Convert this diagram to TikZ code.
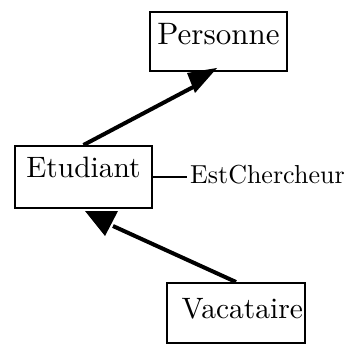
\documentclass[tikz,border=0pt]{standalone}
\usepackage{fontspec}
\setmainfont{lmroman10-regular.otf}
\usetikzlibrary{calc}
\begin{document}
\begin{tikzpicture}[x=1pt,y=-1pt]
\tikzset{
  cls/.style={draw, line width=2pt, inner sep=0pt, anchor=base},
  gen/.style={line width=4pt},
  tri/.style={fill=black},
  attr/.style={inner xsep=3pt, inner ysep=0pt, anchor=base west, font=\fontsize{26}{31}\selectfont},
}
\useasboundingbox (0,0) rectangle (354,345);
\node[cls, font=\fontsize{31}{37}\selectfont, minimum width=137pt, text height=33pt, text depth=26pt] (per) at (218.5,45) {Personne};
\node[cls, font=\fontsize{29.5}{35}\selectfont, minimum width=137pt, text height=32pt, text depth=30pt] (etu) at (83.5,178) {Etudiant};
\node[cls, font=\fontsize{29.5}{35}\selectfont, inner xsep=2pt, text width=134pt, align=right, text height=35pt, text depth=25pt] (vac) at (236,318) {Vacataire};
\node[attr] (est) at (187,183) {EstChercheur};
% generalisation Etudiant -> Personne
\coordinate (a1) at ($(per.south)+(-21.5,13)$);
\draw[gen] (etu.north) -- (a1);
\fill[tri] ($(per.south)+(-31.5,1)$) -- ($(per.south)+(-1.5,-4)$) -- ($(per.south)+(-23.5,21)$) -- cycle;
% generalisation Vacataire -> Etudiant
\coordinate (a2) at ($(etu.south)+(29.5,17)$);
\draw[gen] (vac.north) -- (a2);
\fill[tri] ($(etu.south)+(1.5,2)$) -- ($(etu.south)+(34.5,2)$) -- ($(etu.south)+(21.5,27)$) -- cycle;
% attribute
\draw[line width=1.5pt] (etu.east) -- (etu.east -| est.west);
\end{tikzpicture}
\end{document}
